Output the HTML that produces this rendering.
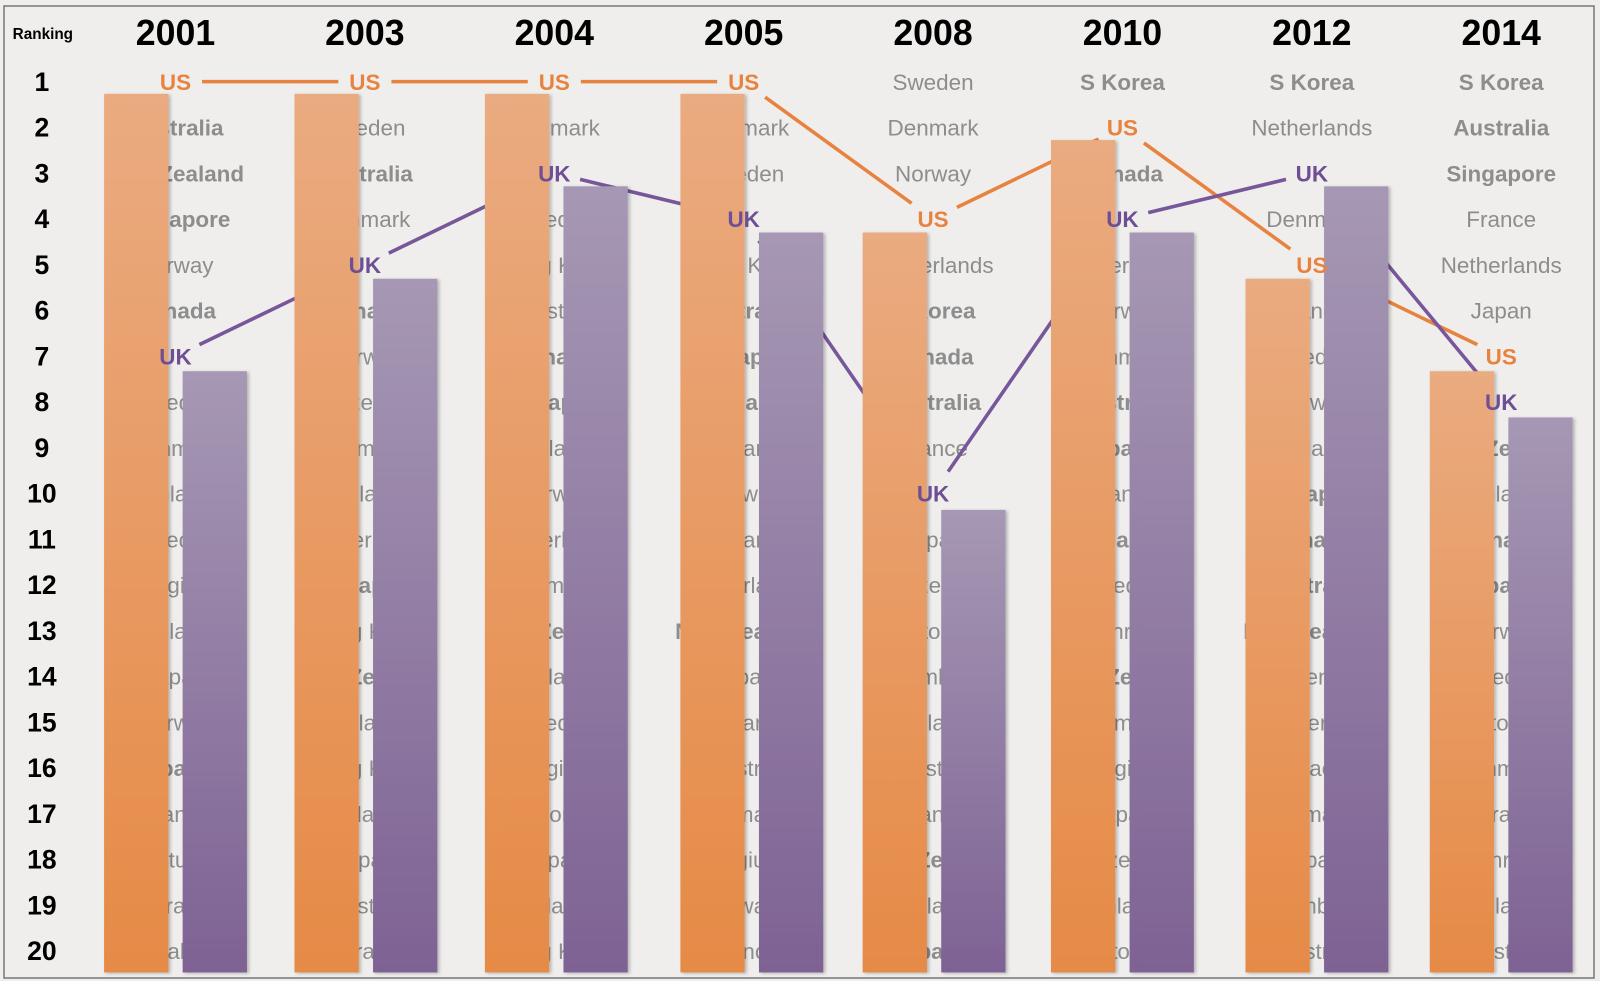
<!DOCTYPE html>
<html><head><meta charset="utf-8">
<style>
html,body{margin:0;padding:0;background:#fff;}
#wrap{position:relative;width:1600px;height:981px;background:#efeeed;overflow:hidden;}
svg{position:absolute;left:0;top:0;}
text{font-family:"Liberation Sans",sans-serif;}
</style></head>
<body>
<div id="wrap">
<svg id="chart" width="1600" height="981">
<defs>
<linearGradient id="gOr" x1="0" y1="0" x2="0" y2="1"><stop offset="0" stop-color="#eaab80"/><stop offset="1" stop-color="#e68a46"/></linearGradient>
<linearGradient id="gPu" x1="0" y1="0" x2="0" y2="1"><stop offset="0" stop-color="#a698b4"/><stop offset="1" stop-color="#7e6294"/></linearGradient>
<filter id="sh" x="-20%" y="-5%" width="140%" height="110%"><feDropShadow dx="2" dy="1" stdDeviation="1.5" flood-color="#000" flood-opacity="0.25"/></filter>
</defs>
<rect x="4" y="6" width="1590" height="972" fill="none" stroke="#777" stroke-width="1.5"/>
<g id="plot" transform="scale(1.0204)"></g>
</svg>
</div>
<script>
const years = ["2001","2003","2004","2005","2008","2010","2012","2014"];
const usRank = [1,1,1,1,4,2,5,7];
const ukRank = [7,5,3,4,10,4,3,8];
const rankLabels = [1,2,3,4,5,6,7,8,9,10,11,12,13,14,15,16,17,18,19,20];
const countries2001 = ["US","Australia","New Zealand","Singapore","Norway","Canada","UK","Sweden","Denmark","Finland","Sweden","Belgium","Iceland","Japan","Norway","Spain","France","Portugal","Israel","Italy"];
const countries2003 = ["US","Sweden","Australia","Denmark","UK","Canada","Norway","Switzerland","Germany","Finland","Netherlands","Singapore","Hong Kong","New Zealand","Iceland","Hong Kong","Ireland","Japan","Austria","Israel"];
const countries2004 = ["US","Denmark","UK","Sweden","Hong Kong","Austria","Canada","Singapore","Finland","Norway","Netherlands","Germany","New Zealand","Iceland","Sweden","Belgium","Estonia","Japan","Ireland","Hong Kong"];
const countries2005 = ["US","Denmark","Sweden","UK","Hong Kong","Australia","Singapore","Canada","Finland","Norway","Finland","Netherlands","New Zealand","Japan","Iceland","Austria","Germany","Belgium","Taiwan","France"];
const countries2008 = ["Sweden","Denmark","Norway","US","Netherlands","S Korea","Canada","Australia","France","UK","Japan","Switzerland","Estonia","Luxembourg","Finland","Austria","France","New Zealand","Iceland","Spain"];
const countries2010 = ["S Korea","US","Canada","UK","Netherlands","Norway","Denmark","Australia","Spain","France","Singapore","Sweden","Bahrain","New Zealand","Germany","Belgium","Japan","Switzerland","Finland","Estonia"];
const countries2012 = ["S Korea","Netherlands","UK","Denmark","US","France","Sweden","Norway","Finland","Singapore","Canada","Australia","New Zealand","Liechtenstein","Switzerland","Israel","Germany","Japan","Luxembourg","Austria"];
const countries2014 = ["S Korea","Australia","Singapore","France","Netherlands","Japan","US","UK","New Zealand","Finland","Canada","Spain","Norway","Sweden","Estonia","Denmark","Israel","Bahrain","Iceland","Austria"];
const boldNames = ["New Zealand","Singapore","Canada","Australia","S Korea","Korea","Spain"];
const allLists = [countries2001,countries2003,countries2004,countries2005,countries2008,countries2010,countries2012,countries2014];

const NS = "http://www.w3.org/2000/svg";
const svg = document.getElementById("plot");
const xCol = i => 172 + i * 185.6;
const barShiftLayout = [0,1,2,8,1,0,5,0];
const yRow = r => 80 + (r - 1) * 44.84;
const yBar = r => 46.7 + 45.3 * r;
const baseY = 953;
function mk(tag, attrs, parent){const e=document.createElementNS(NS,tag);for(const k in attrs)e.setAttribute(k,attrs[k]);(parent||svg).appendChild(e);return e;}

let t = mk("text",{x:42,y:38,"text-anchor":"middle","font-size":15,"font-weight":"bold",fill:"#000"});
t.textContent="Ranking";



rankLabels.forEach(r=>{
  const e=mk("text",{x:41,y:yRow(r)+9,"text-anchor":"middle","font-size":26,"font-weight":"bold",fill:"#000"});
  e.textContent=r;
  
  
});

years.forEach((y,i)=>{
  const e=mk("text",{x:xCol(i),y:44,"text-anchor":"middle","font-size":35,"font-weight":"bold",fill:"#000"});
  e.textContent=y;
  
  
});

allLists.forEach((list,i)=>{
  list.forEach((c,k)=>{
    if(c==="US"||c==="UK") return;
    const e=mk("text",{x:xCol(i),y:yRow(k+1)+8,"text-anchor":"middle","font-size":22,"font-weight":boldNames.includes(c)?"bold":"normal",fill:"#8d8d8d"});
    e.textContent=c;
    
    
  });
});

function drawLine(ranks,color,name){
  for(let i=0;i<ranks.length-1;i++){
    const x1=xCol(i),y1=yRow(ranks[i]),x2=xCol(i+1),y2=yRow(ranks[i+1]);
    const dx=x2-x1,dy=y2-y1,L=Math.hypot(dx,dy),g=26;
    const e=mk("line",{x1:x1+dx/L*g,y1:y1+dy/L*g,x2:x2-dx/L*g,y2:y2-dy/L*g,stroke:color,"stroke-width":3.5});
    
    
  }
}
drawLine(usRank,"#e8833f","us-trend-line");
drawLine(ukRank,"#77579a","uk-trend-line");

years.forEach((y,i)=>{
  const c=xCol(i)+barShiftLayout[i];
  const b1=mk("rect",{x:c-70,y:yBar(usRank[i]),width:63,height:baseY-yBar(usRank[i]),fill:"url(#gOr)",filter:"url(#sh)"});
  
  
  const b2=mk("rect",{x:c+7,y:yBar(ukRank[i]),width:63,height:baseY-yBar(ukRank[i]),fill:"url(#gPu)",filter:"url(#sh)"});
  
  
});

years.forEach((y,i)=>{
  const a=mk("text",{x:xCol(i),y:yRow(usRank[i])+8,"text-anchor":"middle","font-size":22,"font-weight":"bold",fill:"#e8833f"});
  a.textContent="US";
  
  
  const b=mk("text",{x:xCol(i),y:yRow(ukRank[i])+8,"text-anchor":"middle","font-size":22,"font-weight":"bold",fill:"#6e4f94"});
  b.textContent="UK";
  
  
});
</script>
</body></html>
